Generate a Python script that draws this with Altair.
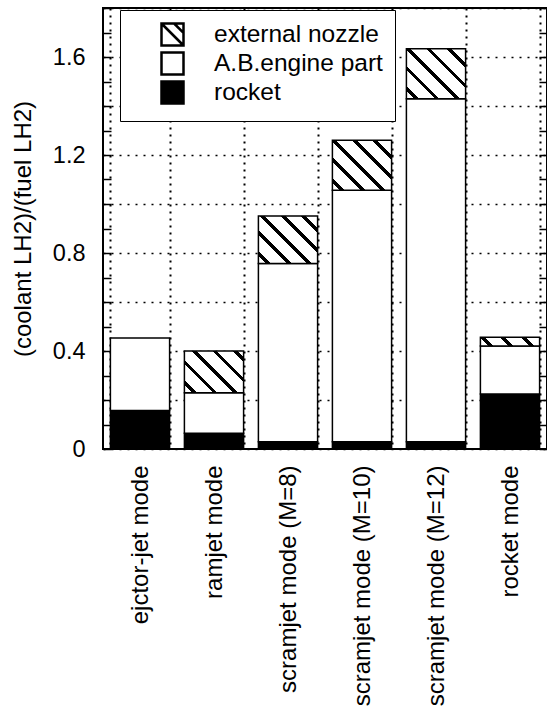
import math
import altair as alt
import pandas as pd

# ---------------- data ----------------
categories = [
    "ejctor-jet mode",
    "ramjet mode",
    "scramjet mode (M=8)",
    "scramjet mode (M=10)",
    "scramjet mode (M=12)",
    "rocket mode",
]
rocket = [0.157, 0.064, 0.030, 0.030, 0.030, 0.224]
engine_part = [0.296, 0.166, 0.727, 1.026, 1.400, 0.196]
nozzle = [0.000, 0.170, 0.194, 0.204, 0.204, 0.036]
components = ["external nozzle", "A.B.engine part", "rocket"]
y_ticks = [0.0, 0.1, 0.2, 0.3, 0.4, 0.5, 0.6, 0.7, 0.8, 0.9,
           1.0, 1.1, 1.2, 1.3, 1.4, 1.5, 1.6, 1.7, 1.8]
y_max = 1.8
y_title = "(coolant LH2)/(fuel LH2)"

# ---------------- layout / style ----------------
FONT = "Liberation Sans"
W, H = 444, 441
PAD_INNER, PAD_OUTER = 0.2, 0.1
px_per_unit = H / y_max
step = W / (len(categories) - PAD_INNER + 2 * PAD_OUTER)
bandwidth = step * (1 - PAD_INNER)

df = pd.DataFrame({"mode": categories, "rocket": rocket,
                   "engine": engine_part, "nozzle": nozzle})
df["r0"] = 0.0
df["r1"] = df["rocket"]
df["a1"] = df["r1"] + df["engine"]
df["n1"] = df["a1"] + df["nozzle"]

y_scale = alt.Scale(domain=[0, y_max], nice=False, zero=True)

x_enc = alt.X(
    "mode:N", sort=categories, title=None,
    scale=alt.Scale(paddingInner=PAD_INNER, paddingOuter=PAD_OUTER),
    axis=alt.Axis(labelAngle=-90, labelFontSize=24, labelFont=FONT,
                  labelColor="black", labelPadding=16, labelLimit=400,
                  ticks=False, domain=False, grid=True, tickBand="extent",
                  gridColor="black", gridDash=[2, 5], gridWidth=2),
)

axis_main = alt.Axis(
    orient="left", values=y_ticks,
    labelExpr="(round(datum.value*10) % 4 == 0) ? format(datum.value, '~g') : ''",
    ticks=False, domain=False, grid=True,
    gridOpacity={"condition": {"test": "round(datum.value*10) % 2 == 0", "value": 1}, "value": 0},
    gridDash=[2, 6], gridColor="black", gridWidth=1.5,
    labelFontSize=23.5, labelFont=FONT, labelColor="black", labelPadding=18,
    titleFontSize=24, titleFont=FONT, titleFontWeight="normal",
    titleColor="black", titlePadding=17,
)
axis_in_left = alt.Axis(orient="right", offset=-W, values=y_ticks, labels=False,
                        ticks=True, tickSize=8, tickWidth=1.5, tickColor="black",
                        domain=False, grid=False, title=None)
axis_in_right = alt.Axis(orient="left", offset=-W, values=y_ticks, labels=False,
                         ticks=True, tickSize=8, tickWidth=1.5, tickColor="black",
                         domain=False, grid=False, title=None)

base = alt.Chart(df)

rocket_layer = base.mark_bar(fill="black", stroke="black", strokeWidth=1.5).encode(
    x=x_enc,
    y=alt.Y("r1:Q", scale=y_scale, title=y_title, axis=axis_main),
    y2="r0:Q",
)
engine_layer = base.mark_bar(fill="white", stroke="black", strokeWidth=1.5).encode(
    x=x_enc,
    y=alt.Y("a1:Q", scale=y_scale, title=None, axis=axis_in_left),
    y2="r1:Q",
)


def hatch_gradient(h_px, w_px, period=14.5, thick=3.5):
    """Diagonal '\\' stripes at 45 degrees as a linear gradient in bbox units."""
    L = (w_px + h_px) / math.sqrt(2)
    k = (w_px + h_px) / (w_px ** 2 + h_px ** 2)
    stops = []
    c = period / 2
    while c - thick / 2 < L:
        a = max(0.0, (c - thick / 2) / L)
        b = min(1.0, (c + thick / 2) / L)
        stops += [
            alt.GradientStop(color="white", offset=a),
            alt.GradientStop(color="black", offset=a),
            alt.GradientStop(color="black", offset=b),
            alt.GradientStop(color="white", offset=b),
        ]
        c += period
    return alt.LinearGradient(gradient="linear", stops=stops,
                              x1=0, y1=1, x2=k * w_px, y2=1 - k * h_px)


nozzle_layers = []
first = True
for cat, nz in zip(categories, nozzle):
    if nz <= 0:
        continue
    grad = hatch_gradient(nz * px_per_unit, bandwidth)
    lyr = base.transform_filter(alt.datum.mode == cat).mark_bar(
        fill=grad, stroke="black", strokeWidth=1.5
    ).encode(
        x=x_enc,
        y=alt.Y("n1:Q", scale=y_scale, title=None,
                axis=axis_in_right if first else None),
        y2="a1:Q",
    )
    first = False
    nozzle_layers.append(lyr)

# legend (built from the component list, no marks drawn)
hatch_symbol = "M-1,-1H1V1H-1Z M-1,-1L1,1 M0.15,-1L1,-0.15"
leg = alt.Legend(title=None, orient="none", legendX=17, legendY=2,
                 fillColor="white", strokeColor="black", padding=12,
                 rowPadding=-5, symbolOffset=28, labelOffset=29,
                 labelFontSize=24.5, labelFont=FONT, labelColor="black",
                 labelLimit=400, symbolSize=484, symbolStrokeColor="black",
                 symbolStrokeWidth=2.5, direction="vertical")
legend_df = pd.DataFrame({"component": components})
legend_layer = alt.Chart(legend_df).transform_filter("false").mark_point(
    filled=True, size=484, strokeWidth=2.5, opacity=1
).encode(
    fill=alt.Fill("component:N", sort=components,
                  scale=alt.Scale(domain=components, range=["white", "white", "black"]),
                  legend=leg),
    stroke=alt.Stroke("component:N", sort=components,
                      scale=alt.Scale(domain=components, range=["black", "black", "black"]),
                      legend=leg),
    shape=alt.Shape("component:N", sort=components,
                    scale=alt.Scale(domain=components,
                                    range=[hatch_symbol, "square", "square"]),
                    legend=leg),
)

chart = alt.layer(rocket_layer, engine_layer, *nozzle_layers, legend_layer).resolve_axis(
    y="independent"
).properties(
    width=W, height=H,
    autosize=alt.AutoSizeParams(type="none"),
    padding={"left": 103, "top": 8, "right": 0, "bottom": 259},
    background="white",
).configure_view(stroke="black", strokeWidth=2)

chart.save("out.html", embed_options={"renderer": "svg", "actions": False})
